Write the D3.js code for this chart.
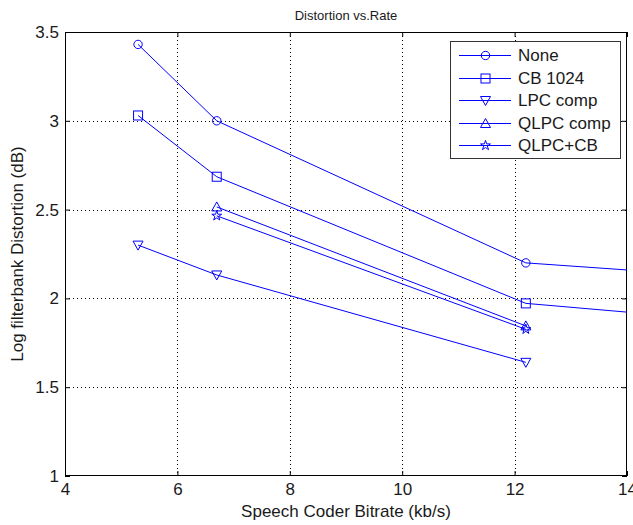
<!DOCTYPE html>
<html>
<head>
<meta charset="utf-8">
<script src="https://cdn.jsdelivr.net/npm/d3@7"></script>
<style>
  body { margin: 0; background: #fff; }
  text { font-family: "Liberation Sans", Arial, sans-serif; fill: #1a1a1a; }
</style>
</head>
<body>
<div id="chart"></div>
<script>
// data
var seriesNames = ["None", "CB 1024", "LPC comp", "QLPC comp", "QLPC+CB"];
var symbols = ["circle", "square", "triDown", "triUp", "star"];
var noneX = [5.3, 6.7, 12.2, 16];
var noneY = [3.43, 3.0, 2.2, 2.116];
var cbX = [5.3, 6.7, 12.2, 16];
var cbY = [3.03, 2.685, 1.972, 1.868];
var lpcX = [5.3, 6.7, 12.2];
var lpcY = [2.30, 2.132, 1.64];
var qlpcX = [6.7, 12.2];
var qlpcY = [2.515, 1.845];
var qlpcCbX = [6.7, 12.2];
var qlpcCbY = [2.465, 1.826];
var xTicks = [4, 6, 8, 10, 12, 14];
var yTicks = [1, 1.5, 2, 2.5, 3, 3.5];

var series = [
  { name: seriesNames[0], sym: symbols[0], x: noneX, y: noneY },
  { name: seriesNames[1], sym: symbols[1], x: cbX, y: cbY },
  { name: seriesNames[2], sym: symbols[2], x: lpcX, y: lpcY },
  { name: seriesNames[3], sym: symbols[3], x: qlpcX, y: qlpcY },
  { name: seriesNames[4], sym: symbols[4], x: qlpcCbX, y: qlpcCbY }
];

var margin = { top: 32, right: 6, bottom: 49, left: 65 },
  width = 633 - margin.left - margin.right,
  height = 525 - margin.top - margin.bottom;

var svg = d3.select("#chart")
  .append("svg")
  .attr("width", 633)
  .attr("height", 525)
  .append("g")
  .attr("transform", "translate(" + margin.left + "," + margin.top + ")");

var x = d3.scaleLinear().domain([4, 14]).range([0, width]);
var y = d3.scaleLinear().domain([1, 3.5]).range([height, 0]);

svg.append("defs").append("clipPath").attr("id", "clip")
  .append("rect").attr("width", width).attr("height", height);

// grid
svg.selectAll(".gx")
  .data(xTicks.slice(1, -1))
  .enter().append("line")
  .attr("x1", function (d) { return Math.round(x(d)) + 0.5; })
  .attr("x2", function (d) { return Math.round(x(d)) + 0.5; })
  .attr("y1", 0).attr("y2", height)
  .attr("stroke", "#000").attr("stroke-dasharray", "1,3");
svg.selectAll(".gy")
  .data(yTicks.slice(1, -1))
  .enter().append("line")
  .attr("y1", function (d) { return Math.round(y(d)) + 0.5; })
  .attr("y2", function (d) { return Math.round(y(d)) + 0.5; })
  .attr("x1", 0).attr("x2", width)
  .attr("stroke", "#000").attr("stroke-dasharray", "1,3");

// axes (ticks inward, box on all sides)
function styleAxis(g) {
  g.select(".domain").remove();
  g.selectAll("line").attr("stroke", "#000");
  g.selectAll("text").style("font-family", "Liberation Sans, Arial, sans-serif")
    .style("font-size", "17px").attr("fill", "#1a1a1a");
}
svg.append("g")
  .attr("transform", "translate(0," + height + ")")
  .call(d3.axisBottom(x).tickValues(xTicks).tickSize(-5).tickPadding(7).tickFormat(d3.format("d")))
  .call(styleAxis);
svg.append("g")
  .call(d3.axisLeft(y).tickValues(yTicks).tickSize(-5).tickPadding(6).tickFormat(function (d) { return String(d); }))
  .call(styleAxis);
svg.append("g")
  .call(d3.axisTop(x).tickValues(xTicks).tickSize(-5).tickFormat(""))
  .call(styleAxis);
svg.append("g")
  .attr("transform", "translate(" + width + ",0)")
  .call(d3.axisRight(y).tickValues(yTicks).tickSize(-5).tickFormat(""))
  .call(styleAxis);
svg.append("rect")
  .attr("x", 0.5).attr("y", 0.5)
  .attr("width", width - 1).attr("height", height - 1)
  .attr("fill", "none").attr("stroke", "#000");

// symbols
var blue = "#0000ff";
function marker(g, sym) {
  if (sym === "circle") g.append("circle").attr("r", 4.2);
  else if (sym === "square") g.append("rect").attr("x", -4.5).attr("y", -4.5).attr("width", 9).attr("height", 9);
  else if (sym === "triDown") g.append("path").attr("d", "M-5,-4L5,-4L0,5Z");
  else if (sym === "triUp") g.append("path").attr("d", "M-5,4L5,4L0,-5Z");
  else g.append("path").attr("d", d3.symbol().type(d3.symbolStar).size(30)());
  g.selectAll("*").attr("fill", "none").attr("stroke", blue).attr("stroke-width", 1);
}

var plot = svg.append("g").attr("clip-path", "url(#clip)");
var line = d3.line()
  .x(function (d) { return x(d[0]); })
  .y(function (d) { return y(d[1]); });

series.forEach(function (s) {
  var pts = d3.zip(s.x, s.y);
  plot.append("path")
    .attr("d", line(pts))
    .attr("fill", "none")
    .attr("stroke", blue)
    .attr("stroke-width", 1);
  pts.forEach(function (p) {
    var g = plot.append("g").attr("transform", "translate(" + x(p[0]) + "," + y(p[1]) + ")");
    marker(g, s.sym);
  });
});

// legend
var lg = svg.append("g").attr("transform", "translate(" + (450 - margin.left) + "," + (41 - margin.top) + ")");
lg.append("rect").attr("x", 0.5).attr("y", 0.5).attr("width", 170).attr("height", 117)
  .attr("fill", "#fff").attr("stroke", "#333");
series.forEach(function (s, i) {
  var cy = Math.round(14 + i * 22.5) + 0.5;
  lg.append("line").attr("x1", 9).attr("x2", 61).attr("y1", cy).attr("y2", cy)
    .attr("stroke", blue);
  var g = lg.append("g").attr("transform", "translate(35.5," + cy + ")");
  marker(g, s.sym);
  lg.append("text").attr("x", 68).attr("y", cy).attr("dy", "0.35em")
    .style("font-size", "17px").text(s.name);
});

// titles
svg.append("text")
  .attr("x", width / 2).attr("y", -12)
  .attr("text-anchor", "middle")
  .style("font-size", "13px")
  .text("Distortion vs.Rate");
svg.append("text")
  .attr("x", width / 2).attr("y", height + 41)
  .attr("text-anchor", "middle")
  .style("font-size", "17px")
  .text("Speech Coder Bitrate (kb/s)");
svg.append("text")
  .attr("transform", "translate(" + (-42) + "," + (height / 2) + ") rotate(-90)")
  .attr("text-anchor", "middle")
  .style("font-size", "17px")
  .text("Log filterbank Distortion (dB)");
</script>
</body>
</html>
